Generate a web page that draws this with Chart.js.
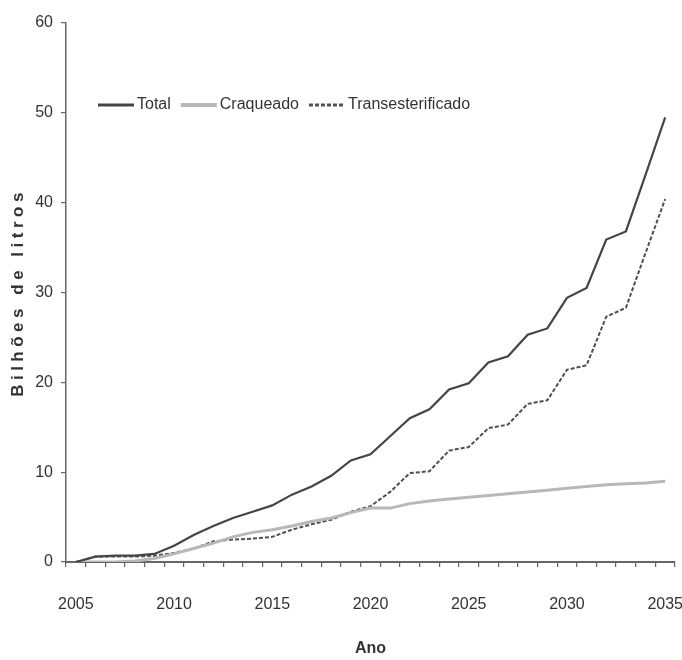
<!DOCTYPE html>
<html>
<head>
<meta charset="utf-8">
<script src="https://cdn.jsdelivr.net/npm/chart.js@4/dist/chart.umd.min.js"></script>
<style>
  html, body { margin: 0; padding: 0; background: #fff; }
  #wrap { width: 682px; height: 660px; }
</style>
</head>
<body>
<div id="wrap"><canvas id="c" width="682" height="660"></canvas></div>
<script>
const years = [2005,2006,2007,2008,2009,2010,2011,2012,2013,2014,2015,2016,2017,2018,2019,2020,
               2021,2022,2023,2024,2025,2026,2027,2028,2029,2030,2031,2032,2033,2034,2035];
const total = [0,0.6,0.7,0.7,0.9,1.8,3.0,4.0,4.9,5.6,6.3,7.5,8.4,9.6,11.3,12.0,
               14.0,16.0,17.0,19.2,19.9,22.2,22.9,25.3,26.0,29.4,30.5,35.9,36.8,43.1,49.5];
const craqueado = [0,0,0,0.1,0.4,0.9,1.5,2.1,2.8,3.3,3.6,4.0,4.5,4.9,5.5,6.0,
                   6.0,6.5,6.8,7.0,7.2,7.4,7.6,7.8,8.0,8.2,8.4,8.6,8.7,8.8,9.0];
const transesterificado = [0,0.6,0.6,0.6,0.7,1.0,1.5,2.3,2.5,2.6,2.8,3.6,4.2,4.7,5.6,6.2,
                           7.8,9.9,10.1,12.4,12.8,14.9,15.3,17.6,18.0,21.4,21.9,27.3,28.3,34.4,40.4];
const seriesNames = ['Total','Craqueado','Transesterificado'];
const yTitle = 'Bilhões de litros';
const xTitle = 'Ano';

const FONT = "'Liberation Sans', Arial, sans-serif";
const styles = [
  {color:'#454545', width:2.2, dash:[]},
  {color:'#b8b8b8', width:3, dash:[]},
  {color:'#505050', width:2, dash:[4,2]}
];

const overlay = {
  id: 'overlay',
  afterDraw(chart) {
    const ctx = chart.ctx;
    const ca = chart.chartArea;
    // y title
    ctx.save();
    ctx.translate(18, (ca.top + ca.bottom) / 2);
    ctx.rotate(-Math.PI / 2);
    ctx.font = "bold 17px " + FONT;
    try { ctx.letterSpacing = '4.5px'; } catch (e) {}
    ctx.fillStyle = '#333';
    ctx.textAlign = 'center';
    ctx.textBaseline = 'middle';
    ctx.fillText(yTitle, 0, 0);
    ctx.restore();
    // legend
    ctx.save();
    ctx.font = '16px ' + FONT;
    ctx.textBaseline = 'middle';
    ctx.fillStyle = '#333';
    let x = ca.left + 32;
    const y = 105;
    chart.data.datasets.forEach((ds, i) => {
      const s = styles[i];
      ctx.beginPath();
      ctx.strokeStyle = s.color;
      ctx.lineWidth = s.width + 1;
      ctx.setLineDash(s.dash);
      ctx.moveTo(x, y);
      ctx.lineTo(x + 36, y);
      ctx.stroke();
      ctx.setLineDash([]);
      ctx.fillText(ds.label, x + 39, y);
      x += 39 + ctx.measureText(ds.label).width + 10;
    });
    ctx.restore();
  }
};

new Chart(document.getElementById('c'), {
  type: 'line',
  data: {
    labels: years.map(String),
    datasets: [total, craqueado, transesterificado].map((d, i) => ({
      label: seriesNames[i],
      data: d,
      borderColor: styles[i].color,
      borderWidth: styles[i].width,
      borderDash: styles[i].dash,
      pointRadius: 0,
      tension: 0,
      fill: false
    }))
  },
  options: {
    responsive: false,
    animation: false,
    layout: { padding: { left: 0, top: 23, right: 7, bottom: 0 } },
    plugins: { legend: { display: false }, tooltip: { enabled: false } },
    scales: {
      x: {
        type: 'category',
        offset: true,
        grid: { display: true, offset: true, drawOnChartArea: false, drawTicks: true, tickLength: 5, color: '#666', lineWidth: 1.2 },
        border: { display: true, color: '#666', width: 2 },
        ticks: {
          autoSkip: false, maxRotation: 0, minRotation: 0, padding: 28,
          color: '#333', font: { family: FONT, size: 16 },
          callback: function(v, i) { const yv = years[i]; return yv % 5 === 0 ? String(yv) : ''; }
        },
        title: { display: true, text: xTitle, color: '#333', font: { family: FONT, size: 16, weight: 'bold' }, padding: { top: 22, bottom: 2 } },
        afterFit(scale) { scale.height = 98; scale.paddingLeft = 0; scale.paddingRight = 0; }
      },
      y: {
        min: 0, max: 60,
        grid: { display: true, drawOnChartArea: false, drawTicks: true, tickLength: 5, color: '#666', lineWidth: 1.2 },
        border: { display: true, color: '#666', width: 1.5 },
        ticks: { stepSize: 10, padding: 8, color: '#333', font: { family: FONT, size: 16 } },
        afterFit(scale) { scale.width = 66; scale.paddingTop = 0; scale.paddingBottom = 0; }
      }
    }
  },
  plugins: [overlay]
});
</script>
</body>
</html>
